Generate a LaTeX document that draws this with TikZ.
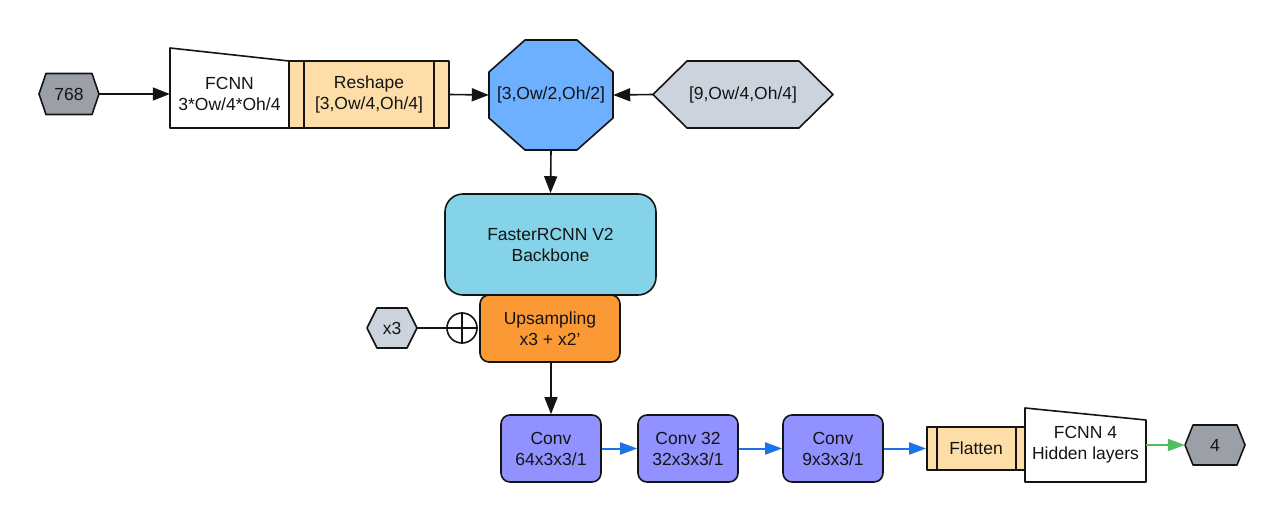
\documentclass[tikz,border=0pt]{standalone}
\usepackage{fontspec}
\setmainfont{Liberation Sans}
\usetikzlibrary{arrows.meta}
\definecolor{hexdark}{RGB}{155,160,168}
\definecolor{hexlight}{RGB}{205,211,220}
\definecolor{tanbox}{RGB}{254,222,168}
\definecolor{octblue}{RGB}{108,176,255}
\definecolor{cyanbox}{RGB}{132,211,232}
\definecolor{orangebox}{RGB}{251,154,52}
\definecolor{convbox}{RGB}{145,145,255}
\definecolor{arrblue}{RGB}{26,115,232}
\definecolor{arrgreen}{RGB}{80,190,95}
\definecolor{ink}{RGB}{20,20,20}
% #1 name, #2 cx, #3 cy, #4 half width, #5 half height, #6 tip depth, #7 fill, #8 text
\newcommand{\myhex}[8]{%
  \draw[shapeline,fill=#7] (#2-#4,#3) -- (#2-#4+#6,#3-#5) -- (#2+#4-#6,#3-#5) -- (#2+#4,#3)
    -- (#2+#4-#6,#3+#5) -- (#2-#4+#6,#3+#5) -- cycle;
  \node[txt,minimum width=2*#4,minimum height=2*#5] (#1) at (#2,#3) {#8};}
\begin{document}
\begin{tikzpicture}[x=1pt,y=-1pt,
  shapeline/.style={draw=ink,line width=1.6pt,line join=round},
  txt/.style={font=\fontsize{17.5}{21}\selectfont,align=center,inner sep=0pt,text=ink},
  boxnode/.style={txt,shapeline},
  conn/.style={draw=ink,line width=1.6pt,-{Triangle[length=17pt,width=13pt]}},
  bconn/.style={draw=arrblue,line width=2pt,-{Triangle[length=17pt,width=12pt]}},
  gconn/.style={draw=arrgreen,line width=2pt,-{Triangle[length=17pt,width=12pt]}}]
\useasboundingbox (0,0) rectangle (1285,522);

% input hexagon
\myhex{in}{69}{94}{30}{20.5}{7}{hexdark}{768}

% FCNN trapezoid
\draw[shapeline,fill=white] (170,48) -- (289,61) -- (289,128) -- (170,128) -- cycle;
\node[txt,minimum width=119,minimum height=68] (fcnn) at (229.5,94) {FCNN\\3*Ow/4*Oh/4};

% Reshape
\node[boxnode,fill=tanbox,minimum width=160,minimum height=67] (reshape) at (369,94.5) {Reshape\\{}[3,Ow/4,Oh/4]};
\draw[shapeline] ([xshift=16]reshape.north west) -- ([xshift=16]reshape.south west);
\draw[shapeline] ([xshift=-16]reshape.north east) -- ([xshift=-16]reshape.south east);

% Octagon
\draw[shapeline,fill=octblue] (489,72) -- (525,40) -- (577,40) -- (613,72) -- (613,118) -- (577,150) -- (525,150) -- (489,118) -- cycle;
\node[txt,minimum width=124,minimum height=110] (oct) at (551,95) {[3,Ow/2,Oh/2]};

% right hexagon
\myhex{side}{743}{94.5}{90}{33.5}{34}{hexlight}{[9,Ow/4,Oh/4]}

% FasterRCNN
\node[boxnode,fill=cyanbox,rounded corners=18pt,minimum width=211,minimum height=101] (frcnn) at (550.5,244.5) {FasterRCNN V2\\Backbone};

% Upsampling
\node[boxnode,fill=orangebox,rounded corners=9pt,minimum width=140,minimum height=67] (up) at (550,328.5) {Upsampling\\x3 + x2\char"0027};

% x3 and plus
\myhex{xthree}{392}{328}{25}{20}{10}{hexlight}{x3}
\node[shapeline,circle,fill=white,minimum size=30,inner sep=0pt] (plus) at (462,328) {};
\draw[draw=ink,line width=1.6pt] (plus.north) -- (plus.south) (plus.west) -- (plus.east);

% Conv boxes
\node[boxnode,fill=convbox,rounded corners=9pt,minimum width=100,minimum height=67] (c1) at (551,448.5) {Conv\\64x3x3/1};
\node[boxnode,fill=convbox,rounded corners=9pt,minimum width=100,minimum height=67] (c2) at (688,448.5) {Conv 32\\32x3x3/1};
\node[boxnode,fill=convbox,rounded corners=9pt,minimum width=100,minimum height=67] (c3) at (833,448.5) {Conv\\9x3x3/1};

% Flatten
\node[boxnode,fill=tanbox,minimum width=98,minimum height=43] (flat) at (976,448.5) {Flatten};
\draw[shapeline] ([xshift=11]flat.north west) -- ([xshift=11]flat.south west);
\draw[shapeline] ([xshift=-10]flat.north east) -- ([xshift=-10]flat.south east);

% FCNN 4 trapezoid
\draw[shapeline,fill=white] (1025,408) -- (1146,420) -- (1146,482) -- (1025,482) -- cycle;
\node[txt,minimum width=121,minimum height=74] (fcnnfour) at (1085.5,445) {FCNN 4\\Hidden layers};

% output hexagon
\myhex{out}{1215}{445}{30}{20}{8}{hexdark}{4}

% connectors
\draw[conn] (in.east) -- (fcnn.west);
\draw[conn] (reshape.east) -- (oct.west);
\draw[conn] (side.west) -- (oct.east);
\draw[conn] (oct.south) -- (frcnn.north);
\draw[draw=ink,line width=1.6pt] (xthree.east) -- (plus.west);
\draw[conn] (up.south -| c1.north) -- (c1.north);
\draw[bconn] (c1.east) -- (c2.west);
\draw[bconn] (c2.east) -- (c3.west);
\draw[bconn] (c3.east) -- (flat.west);
\draw[gconn] (fcnnfour.east) -- (out.west);
\end{tikzpicture}
\end{document}
